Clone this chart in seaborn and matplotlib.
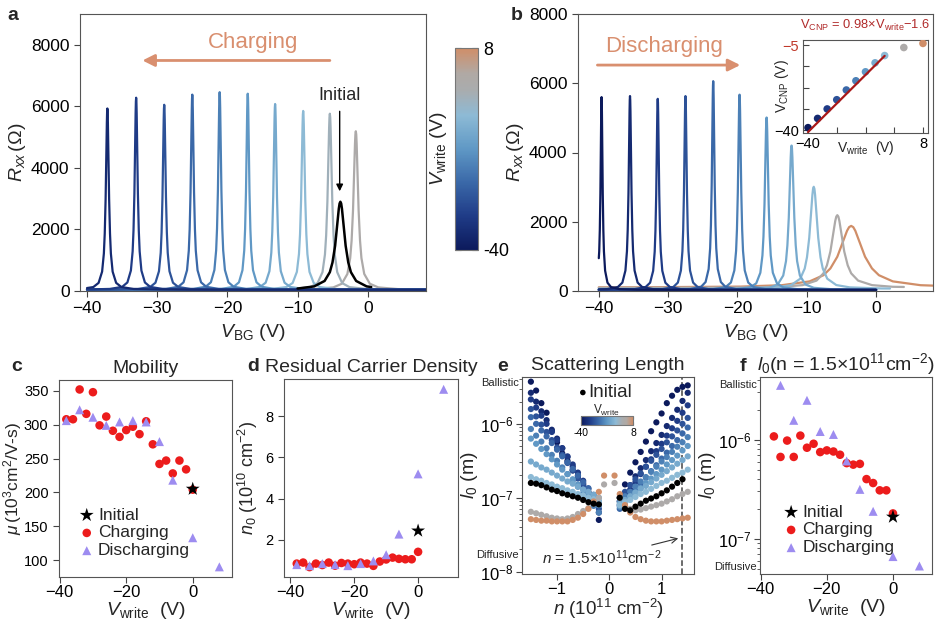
import numpy as np
import matplotlib
matplotlib.use("Agg")
import matplotlib.pyplot as plt
import matplotlib.transforms as mtransforms
import seaborn as sns
from matplotlib.colors import LinearSegmentedColormap, Normalize
from matplotlib.cm import ScalarMappable

sns.set_style("ticks")
plt.rcParams["font.family"] = ["Liberation Sans", "DejaVu Sans"]
plt.rcParams["mathtext.fontset"] = "custom"
plt.rcParams["mathtext.rm"] = "Liberation Sans"
plt.rcParams["mathtext.it"] = "Liberation Sans:italic"
plt.rcParams["mathtext.bf"] = "Liberation Sans:bold"
plt.rcParams["axes.edgecolor"] = "#555555"
plt.rcParams["xtick.color"] = "#444444"
plt.rcParams["ytick.color"] = "#444444"
plt.rcParams["xtick.labelcolor"] = "black"
plt.rcParams["ytick.labelcolor"] = "black"

# ---------------- data ----------------
# colour scale of V_write (V)
vw_nodes = [-40, -32, -24, -16, -8, -2, 2, 8]
vw_node_colors = ["#0c1a5c", "#1f3b87", "#3a68a8", "#5f98c5", "#8dbad5",
                  "#a9acae", "#b0a9a4", "#d08e68"]

# normalised peak shape: offset in half-widths -> fraction of peak height
prof_x = [-60, -30, -15, -8, -5, -3, -2, -1.5, -1, -0.6, -0.3, -0.15, 0,
          0.15, 0.3, 0.6, 1, 1.5, 2, 3, 5, 8, 15, 30, 60]
prof_y = [0.0003, 0.0011, 0.0044, 0.015, 0.038, 0.10, 0.20, 0.31, 0.50, 0.74,
          0.92, 0.98, 1.0, 0.98, 0.92, 0.74, 0.50, 0.31, 0.20, 0.10, 0.038,
          0.015, 0.0044, 0.0011, 0.0003]

# a: charging sweeps
a_vwrite = [-36, -32, -28, -24, -20, -16, -12, -8, -4, 0]
a_center = [-37.1, -33.0, -29.0, -25.0, -21.1, -17.1, -13.2, -9.2, -5.4, -1.7]
a_height = [5890, 6240, 6010, 6340, 6420, 6370, 6035, 5810, 5720, 5150]
a_width = [0.25, 0.25, 0.25, 0.25, 0.25, 0.25, 0.27, 0.3, 0.35, 0.4]
a_base = 40
a_range = (-40, 8.5)
init_center, init_height, init_width, init_range = -3.9, 2860, 0.75, (-10, 0.5)

# b: discharging sweeps
b_vwrite = [-40, -36, -32, -28, -24, -20, -16, -12, -8, 0, 8]
b_center = [-39.6, -35.5, -31.5, -27.5, -23.5, -19.7, -15.8, -12.2, -9.0, -5.6, -3.6]
b_height = [5570, 5600, 5520, 5600, 6030, 5640, 4980, 4170, 2950, 2100, 1780]
b_width = [0.17, 0.22, 0.22, 0.22, 0.22, 0.25, 0.3, 0.4, 0.65, 1.0, 2.0]
b_base = [30, 30, 30, 30, 30, 30, 30, 30, 60, 90, 100]
b_end = [0, 0, 0, 0, 0, 0, 0, 0, 2, 4, 8.5]

# b inset: V_CNP vs V_write, linear fit
inset_vcnp = [-39.0, -35.2, -31.3, -27.5, -23.5, -19.7, -16.0, -12.3, -9.3, -6.0, -4.3]
fit_slope, fit_icpt = 0.98, -1.6
fit_vw = [-40, -8]

# c: mobility (10^3 cm^2/V-s)
c_vw_chg = [-38, -36, -34, -32, -30, -28, -26, -24, -22, -20, -18, -16, -14, -12,
            -10, -8, -6, -4, -2, 0]
c_mu_chg = [308, 308, 352, 316, 348, 299, 312, 291, 282, 292, 297, 286, 305, 271,
            242, 247, 228, 247, 234, 204]
c_vw_dis = [-38, -34, -30, -26, -22, -18, -14, -10, -6, 0, 8]
c_mu_dis = [306, 322, 311, 299, 304, 306, 304, 275, 218, 133, 90]
c_mu_init = 205

# d: residual carrier density (10^10 cm^-2)
d_n0_chg = [0.85, 0.9, 0.68, 0.85, 0.78, 0.9, 0.75, 0.88, 0.85, 0.82, 0.9, 0.85,
            0.74, 0.95, 1.05, 1.14, 1.08, 1.06, 1.06, 1.42]
d_n0_dis = [0.8, 0.75, 0.85, 0.8, 0.75, 0.85, 0.98, 1.28, 2.28, 5.2, 9.3]
d_n0_init = 2.44

# e: scattering length, log10(l0 / m) vs n (10^11 cm^-2)
e_n = [-1.5, -1.4, -1.3, -1.2, -1.1, -1.0, -0.9, -0.8, -0.7, -0.6, -0.5, -0.4, -0.3, -0.2, -0.1,
       0.1, 0.2, 0.3, 0.4, 0.5, 0.6, 0.7, 0.8, 0.9, 1.0, 1.1, 1.2, 1.3, 1.4, 1.5]
e_vw = [-40, -36, -32, -28, -24, -20, -16, -12, -8, 0, 8]
e_log_l0 = [
    [-5.43, -5.55, -5.72, -5.85, -6.10, -6.25, -6.40, -6.50, -6.63, -6.72, -6.81, -6.92, -7.05, -7.30, None,
     None, -7.00, -6.82, -6.66, -6.52, -6.38, -6.24, -6.10, -5.98, -5.86, -5.72, -5.62, -5.54, -5.50, -5.48],
    [-5.58, -5.70, -5.83, -5.95, -6.08, -6.20, -6.33, -6.45, -6.58, -6.70, -6.83, -6.95, -7.08, -7.20, None,
     None, -7.05, -6.94, -6.83, -6.71, -6.60, -6.49, -6.37, -6.26, -6.15, -6.03, -5.92, -5.81, -5.69, -5.58],
    [-5.67, -5.78, -5.89, -6.00, -6.11, -6.22, -6.33, -6.44, -6.55, -6.66, -6.77, -6.88, -6.99, -7.10, None,
     None, -7.10, -7.00, -6.89, -6.79, -6.68, -6.58, -6.48, -6.37, -6.27, -6.16, -6.06, -5.96, -5.85, -5.75],
    [-5.80, -5.90, -6.01, -6.11, -6.22, -6.32, -6.42, -6.53, -6.63, -6.74, -6.84, -6.94, -7.05, -7.15, None,
     None, -7.00, -6.92, -6.83, -6.75, -6.67, -6.58, -6.50, -6.42, -6.34, -6.25, -6.17, -6.09, -6.00, -5.92],
    [-5.91, -6.00, -6.09, -6.17, -6.26, -6.35, -6.44, -6.52, -6.61, -6.70, -6.79, -6.87, -6.96, -7.05, None,
     None, -7.15, -7.07, -6.98, -6.90, -6.81, -6.73, -6.64, -6.56, -6.47, -6.39, -6.30, -6.22, -6.13, -6.05],
    [-6.07, -6.16, -6.24, -6.33, -6.42, -6.50, -6.59, -6.68, -6.77, -6.85, -6.94, -7.03, -7.11, -7.20, None,
     None, -7.05, -6.98, -6.92, -6.85, -6.78, -6.72, -6.65, -6.58, -6.51, -6.45, -6.38, -6.31, -6.25, -6.18],
    [-6.20, -6.27, -6.34, -6.41, -6.48, -6.55, -6.62, -6.68, -6.75, -6.82, -6.89, -6.96, -7.03, -7.10, None,
     None, -7.12, -7.06, -6.99, -6.93, -6.87, -6.80, -6.74, -6.68, -6.62, -6.55, -6.49, -6.43, -6.36, -6.30],
    [-6.51, -6.55, -6.59, -6.62, -6.66, -6.70, -6.74, -6.78, -6.81, -6.85, -6.89, -6.92, -6.96, -7.00, None,
     None, -7.08, -7.03, -6.98, -6.93, -6.88, -6.84, -6.79, -6.74, -6.69, -6.64, -6.59, -6.54, -6.49, -6.44],
    [-6.72, -6.75, -6.77, -6.80, -6.82, -6.85, -6.87, -6.90, -6.92, -6.95, -6.97, -7.00, -7.02, -7.05, None,
     None, -7.10, -7.06, -7.03, -6.99, -6.95, -6.92, -6.88, -6.84, -6.80, -6.77, -6.73, -6.69, -6.66, -6.62],
    [-7.19, -7.21, -7.23, -7.25, -7.27, -7.28, -7.29, -7.28, -7.26, -7.22, -7.18, -7.14, -7.08, -7.00, -6.82,
     -6.80, -7.00, -7.10, -7.15, -7.17, -7.16, -7.14, -7.12, -7.10, -7.08, -7.05, -7.02, -6.98, -6.95, -6.92],
    [-7.29, -7.30, -7.31, -7.31, -7.32, -7.32, -7.32, -7.32, -7.30, -7.27, -7.22, -7.15, -7.05, -6.92, -6.70,
     -6.70, -6.95, -7.10, -7.20, -7.26, -7.29, -7.31, -7.32, -7.32, -7.32, -7.31, -7.30, -7.29, -7.28, -7.27],
]
e_log_init = [-6.80, -6.81, -6.83, -6.86, -6.89, -6.91, -6.94, -6.96, -6.98, -7.00, -7.03, -7.06, -7.08, -7.09, None,
              None, -7.00, -7.15, -7.17, -7.12, -7.08, -7.04, -7.01, -6.98, -6.94, -6.90, -6.85, -6.80, -6.75, None]
e_n_mark = 1.4

# f: l0 at n = 1.5e11 cm^-2 (10^-7 m)
f_vw_chg = [-36, -34, -32, -30, -28, -26, -24, -22, -20, -18, -16, -14, -12, -10, -8, -6, -4, -2, 0]
f_l0_chg = [10.8, 6.7, 9.8, 6.7, 11.0, 8.3, 9.1, 7.5, 7.8, 7.6, 7.05, 5.8, 5.6, 5.7, 4.0, 3.65, 3.08, 3.08, 1.8]
f_vw_dis = [-34, -30, -26, -22, -18, -14, -10, -6, 0, 8]
f_l0_dis = [35.4, 15.7, 25.0, 12.1, 11.3, 6.1, 3.15, 1.89, 0.66, 0.53]
f_l0_init = 1.66

# ---------------- styling ----------------
red = "#ec1c1c"
purple = "#9d8cf0"
arrow_col = "#d98f6f"
cmap = LinearSegmentedColormap.from_list(
    "vwrite", list(zip((np.array(vw_nodes) + 40) / 48.0, vw_node_colors)))
norm = Normalize(-40, 8)

fig = plt.figure(figsize=(9.43, 6.23), dpi=100)


def px_axes(l, t, r, b):
    return fig.add_axes([l / 943, 1 - b / 623, (r - l) / 943, (b - t) / 623])


def sweep(center, height, width, base, lo, hi):
    v = center + width * np.array(prof_x)
    v = np.concatenate([[lo], v[(v > lo) & (v < hi)], [hi]])
    r = base + height * np.interp((v - center) / width, prof_x, prof_y)
    return v, r


def draw_line(ax, v, r, color, lw=1.6):
    sns.lineplot(x=v, y=r, color=color, lw=lw, ax=ax, estimator=None, sort=False)


# ---------------- a ----------------
ax_a = px_axes(80, 14, 426, 291)
for i in reversed(range(len(a_vwrite))):
    v, r = sweep(a_center[i], a_height[i], a_width[i], a_base, *a_range)
    draw_line(ax_a, v, r, cmap(norm(a_vwrite[i])))
v, r = sweep(init_center, init_height, init_width, a_base, *init_range)
draw_line(ax_a, v, r, "black", lw=1.8)
ax_a.set_xlim(-41, 8.3)
ax_a.set_ylim(0, 9000)
ax_a.set_xticks([-40, -30, -20, -10, 0])
ax_a.set_yticks([0, 2000, 4000, 6000, 8000])
ax_a.tick_params(labelsize=12.5, length=4)
ax_a.set_xlabel(r"$V_{\rm BG}$ (V)", fontsize=14, labelpad=4)
ax_a.set_ylabel(r"$R_{xx}\,(\Omega)$", fontsize=14, labelpad=2)
ax_a.annotate("", xy=(-32.5, 7490), xytext=(-5.0, 7490),
              arrowprops=dict(arrowstyle="-|>", color=arrow_col, lw=2, mutation_scale=18))
ax_a.text(-16.4, 8080, "Charging", color=arrow_col, fontsize=16, ha="center", va="center")
ax_a.annotate("Initial", xy=(-4.0, 3150), xytext=(-4.0, 6356), fontsize=13,
              ha="center", va="center",
              arrowprops=dict(arrowstyle="-|>", color="black", lw=1, mutation_scale=10, shrinkA=3))

# colorbar of a
cax = px_axes(455, 48, 478, 250)
cb = fig.colorbar(ScalarMappable(norm=norm, cmap=cmap), cax=cax)
cb.set_ticks([-40, -30.4, -20.8, -11.2, -1.6, 8])
cb.set_ticklabels(["-40", "", "", "", "", "8"])
cb.outline.set_edgecolor("#777777")
cax.tick_params(direction="in", length=4, left=True, right=True, labelsize=13, pad=4)
cax.yaxis.set_label_position("left")
cb.set_label(r"$V_{\rm write}$ (V)", fontsize=14, labelpad=4)

# ---------------- b ----------------
ax_b = px_axes(578, 14, 933, 291)
for i in reversed(range(len(b_vwrite))):
    v, r = sweep(b_center[i], b_height[i], b_width[i], b_base[i], -40, b_end[i])
    draw_line(ax_b, v, r, cmap(norm(b_vwrite[i])))
ax_b.set_xlim(-43, 8.2)
ax_b.set_ylim(0, 8000)
ax_b.set_xticks([-40, -30, -20, -10, 0])
ax_b.set_yticks([0, 2000, 4000, 6000, 8000])
ax_b.tick_params(labelsize=12.5, length=4)
ax_b.set_xlabel(r"$V_{\rm BG}$ (V)", fontsize=14, labelpad=4)
ax_b.set_ylabel(r"$R_{xx}\,(\Omega)$", fontsize=14, labelpad=2)
ax_b.annotate("", xy=(-19.2, 6525), xytext=(-40.6, 6525),
              arrowprops=dict(arrowstyle="-|>", color=arrow_col, lw=2, mutation_scale=18))
ax_b.text(-30.6, 7070, "Discharging", color=arrow_col, fontsize=16, ha="center", va="center")

# inset of b
ax_in = px_axes(803, 40, 928, 133)
sns.scatterplot(x=b_vwrite, y=inset_vcnp, hue=b_vwrite, palette=cmap, hue_norm=norm,
                s=30, edgecolor="none", legend=False, ax=ax_in, zorder=3)
fit_x = np.array(fit_vw, dtype=float)
sns.lineplot(x=fit_x, y=fit_slope * fit_x + fit_icpt, color="#a81818", lw=1.6,
             ax=ax_in, zorder=4)
ax_in.set_xlim(-42.1, 10.1)
ax_in.set_ylim(-41.2, -2.9)
ax_in.set_xticks([-40, -28, -16, -4, 8])
ax_in.set_xticklabels(["\u221240", "", "", "", "8"])
ax_in.set_yticks([-40, -31.25, -22.5, -13.75, -5])
ax_in.set_yticklabels(["\u221240", "", "", "", "\u22125"])
ax_in.get_yticklabels()[-1].set_color("#c0392b")
ax_in.tick_params(direction="in", length=4, labelsize=10.5, pad=3)
ax_in.set_xlabel(r"V$_{\rm write}$  (V)", fontsize=10, labelpad=-9)
ax_in.set_ylabel(r"V$_{\rm CNP}$ (V)", fontsize=10, labelpad=-12)
ax_in.text(0.5, 1.16, r"V$_{\rm CNP}$ = 0.98×V$_{\rm write}$−1.6", color="#b02a2a",
           fontsize=9.3, ha="center", va="center", transform=ax_in.transAxes)


# ---------------- bottom row helpers ----------------
def bottom_style(ax):
    ax.tick_params(axis="x", labelsize=12, length=4, pad=2)
    ax.tick_params(axis="y", labelsize=10.5, length=4)
    ax.set_xlabel(r"$V_{\rm write}$  (V)", fontsize=14, labelpad=0)


def three_way(ax, vc, yc, vd, yd, yi, legend=True, anchor=(0.06, 0.06)):
    sns.scatterplot(x=vc, y=yc, color=red, s=38, edgecolor="none", ax=ax,
                    label="Charging", zorder=3)
    sns.scatterplot(x=vd, y=yd, color=purple, marker="^", s=42, edgecolor="none", ax=ax,
                    label="Discharging", zorder=4)
    sns.scatterplot(x=[0], y=[yi], color="black", marker="*", s=110, edgecolor="none", ax=ax,
                    label="Initial", zorder=5)
    h, l = ax.get_legend_handles_labels()
    if legend:
        ax.legend([h[2], h[0], h[1]], [l[2], l[0], l[1]], loc="lower left",
                  bbox_to_anchor=anchor, frameon=False, fontsize=12.5,
                  handletextpad=0.05, labelspacing=0.15, handlelength=1.2, borderaxespad=0)
    else:
        ax.get_legend().remove()


# ---------------- c ----------------
ax_c = px_axes(59, 380, 232, 577)
three_way(ax_c, c_vw_chg, c_mu_chg, c_vw_dis, c_mu_dis, c_mu_init)
ax_c.set_xlim(-40.2, 11.8)
ax_c.set_ylim(75, 366)
ax_c.set_xticks([-40, -20, 0])
ax_c.set_yticks([100, 150, 200, 250, 300, 350])
bottom_style(ax_c)
ax_c.set_ylabel(r"$\mu\,(10^3$cm$^2$/V-s)", fontsize=12.5, labelpad=0)
ax_c.set_title("Mobility", fontsize=14, pad=5)

# ---------------- d ----------------
ax_d = px_axes(284, 379, 458, 577)
three_way(ax_d, c_vw_chg, d_n0_chg, c_vw_dis, d_n0_dis, d_n0_init, legend=False)
ax_d.set_xlim(-42, 12.5)
ax_d.set_ylim(0.2, 9.8)
ax_d.set_xticks([-40, -20, 0])
ax_d.set_yticks([2, 4, 6, 8])
bottom_style(ax_d)
ax_d.set_ylabel(r"$n_0$ ($10^{10}$ cm$^{-2}$)", fontsize=13, labelpad=4)
ax_d.set_title("Residual Carrier Density", fontsize=14, pad=5)

# ---------------- e ----------------
ax_e = px_axes(522, 377, 694, 574)
n_arr = np.array(e_n)
for vw, row in zip(e_vw, e_log_l0):
    sns.scatterplot(x=n_arr, y=10 ** np.array(row, dtype=float), color=cmap(norm(vw)),
                    s=20, edgecolor="none", ax=ax_e, zorder=3)
sns.scatterplot(x=n_arr, y=10 ** np.array(e_log_init, dtype=float), color="black",
                s=20, edgecolor="none", ax=ax_e, zorder=4, label="Initial")
ax_e.legend(loc="upper center", bbox_to_anchor=(0.47, 1.02), frameon=False, fontsize=13.5,
            handletextpad=-0.2, handlelength=1.0, markerscale=0.9, borderaxespad=0.2)
ax_e.set_yscale("log")
ax_e.set_xlim(-1.67, 1.62)
ax_e.set_ylim(9.3e-9, 4.3e-6)
ax_e.set_xticks([-1, 0, 1])
ax_e.set_yticks([1e-8, 1e-7, 1e-6])
ax_e.set_yticklabels([r"$10^{-8}$", r"$10^{-7}$", r"$10^{-6}$"])
ax_e.tick_params(axis="x", labelsize=12, length=4, pad=2)
ax_e.tick_params(axis="y", which="major", labelsize=12, length=4, pad=2)
ax_e.tick_params(axis="y", which="minor", length=2)
ax_e.axvline(e_n_mark, ls="--", color="#444444", lw=1.1)
ax_e.annotate(r"$n$ = 1.5×10$^{11}$cm$^{-2}$", xy=(1.37, 10 ** -7.54),
              xytext=(-0.14, 10 ** -7.81), fontsize=11, ha="center", va="center",
              arrowprops=dict(arrowstyle="->", color="#333333", lw=0.8, shrinkA=0))
ax_e.set_xlabel(r"$n$ ($10^{11}$ cm$^{-2}$)", fontsize=13.5, labelpad=0)
ax_e.set_ylabel(r"$l_0$ (m)", fontsize=14, labelpad=0)
ax_e.set_title("Scattering Length", fontsize=14, pad=5)

# small colorbar in e
ecax = px_axes(581, 416, 633, 425)
ecb = fig.colorbar(ScalarMappable(norm=norm, cmap=cmap), cax=ecax, orientation="horizontal")
ecb.set_ticks([-40, -30.4, -20.8, -11.2, -1.6, 8])
ecb.set_ticklabels(["-40", "", "", "", "", "8"])
ecb.outline.set_edgecolor("#777777")
ecax.tick_params(direction="in", length=2, labelsize=7.5, pad=2, top=True)
ecax.set_title(r"V$_{\rm write}$", fontsize=8.5, pad=1.5)

# ---------------- f ----------------
ax_f = px_axes(760, 377, 932, 574)
three_way(ax_f, f_vw_chg, np.array(f_l0_chg) * 1e-7, f_vw_dis, np.array(f_l0_dis) * 1e-7,
          f_l0_init * 1e-7, anchor=(0.08, 0.06))
ax_f.set_yscale("log")
ax_f.set_xlim(-40.2, 11.8)
ax_f.set_ylim(4.4e-8, 4.3e-6)
ax_f.set_xticks([-40, -20, 0])
ax_f.set_yticks([1e-7, 1e-6])
ax_f.set_yticklabels([r"$10^{-7}$", r"$10^{-6}$"])
bottom_style(ax_f)
ax_f.tick_params(axis="y", which="major", labelsize=12, pad=2)
ax_f.tick_params(axis="y", which="minor", length=2)
ax_f.set_ylabel(r"$l_0$ (m)", fontsize=14, labelpad=0)
ax_f.set_title(r"$l_0$(n = 1.5×10$^{11}$cm$^{-2}$)", fontsize=14, pad=5)

# regime labels
for ax, top, bot in [(ax_e, 10 ** -5.45, 10 ** -7.77), (ax_f, 10 ** -5.45, 10 ** -7.29)]:
    tr = mtransforms.blended_transform_factory(ax.transAxes, ax.transData)
    ax.text(-0.02, top, "Ballistic", transform=tr, ha="right", va="center", fontsize=8)
    ax.text(-0.02, bot, "Diffusive", transform=tr, ha="right", va="center", fontsize=8)

# panel letters
for letter, x, y in [("a", 13, 16), ("b", 517, 16), ("c", 17, 367), ("d", 253, 367),
                     ("e", 503, 367), ("f", 743, 367)]:
    fig.text(x / 943, 1 - y / 623, letter, ha="center", va="center",
             fontweight="bold", fontsize=14)

fig.savefig("out.png", dpi=100)
